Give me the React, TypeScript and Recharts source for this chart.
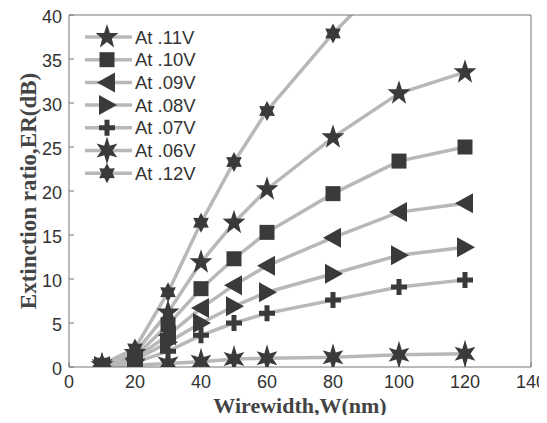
import { LineChart, Line, XAxis, YAxis, Label, Legend } from 'recharts';

// wirewidth W (nm)
const widths = [10, 20, 30, 40, 50, 60, 80, 100, 120];

// extinction ratio (dB) per bias voltage
const er11 = [0.2, 1.6, 6.2, 11.9, 16.4, 20.2, 26.1, 31.1, 33.5];
const er10 = [0.2, 1.2, 4.8, 8.9, 12.3, 15.3, 19.7, 23.4, 25.0];
const er09 = [0.1, 1.0, 3.6, 6.7, 9.3, 11.5, 14.7, 17.6, 18.6];
const er08 = [0.1, 0.8, 2.8, 5.0, 6.9, 8.5, 10.6, 12.7, 13.6];
const er07 = [0.1, 0.5, 1.8, 3.6, 5.0, 6.1, 7.6, 9.1, 9.9];
const er06 = [0.1, 0.2, 0.4, 0.6, 0.9, 1.0, 1.1, 1.4, 1.5];
const er12 = [0.3, 2.1, 8.5, 16.4, 23.3, 29.1, 37.9, 45.5, 52.0];

const xTicks = [0, 20, 40, 60, 80, 100, 120, 140];
const yTicks = [0, 5, 10, 15, 20, 25, 30, 35, 40];

const series = [
    { key: 'v11', name: 'At .11V', kind: 'star5', values: er11 },
    { key: 'v10', name: 'At .10V', kind: 'square', values: er10 },
    { key: 'v09', name: 'At .09V', kind: 'left', values: er09 },
    { key: 'v08', name: 'At .08V', kind: 'right', values: er08 },
    { key: 'v07', name: 'At .07V', kind: 'plus', values: er07 },
    { key: 'v06', name: 'At .06V', kind: 'star6', values: er06 },
    { key: 'v12', name: 'At .12V', kind: 'hex', values: er12 },
];

const data = widths.map((w, i) => {
    const row: Record<string, number> = { w };
    series.forEach(s => { row[s.key] = s.values[i]; });
    return row;
});

const MARK = '#3a3a3a';
const LINE = '#b8b8b8';
const AXIS = '#777';
const SANS = '"Liberation Sans", Arial, sans-serif';
const SERIF = '"Liberation Serif", "Times New Roman", serif';
const TICK_FONT = { fontSize: 18, fill: '#333', fontFamily: SANS };

const starPath = (cx: number, cy: number, n: number, rx: number, ry: number, ri: number) => {
    let d = '';
    for (let i = 0; i < n * 2; i++) {
        const a = -Math.PI / 2 + (i * Math.PI) / n;
        const px = cx + Math.cos(a) * (i % 2 === 0 ? rx : ri);
        const py = cy + Math.sin(a) * (i % 2 === 0 ? ry : ri);
        d += (i === 0 ? 'M' : 'L') + px.toFixed(1) + ',' + py.toFixed(1);
    }
    return d + 'Z';
};

const Marker = ({ kind, cx, cy }: { kind: string; cx: number; cy: number }) => {
    switch (kind) {
        case 'star5':
            return <path d={starPath(cx, cy, 5, 12, 13, 5)} fill={MARK} />;
        case 'square':
            return <rect x={cx - 7.5} y={cy - 7.5} width={15} height={15} fill={MARK} />;
        case 'left':
            return <polygon points={`${cx - 10},${cy} ${cx + 8},${cy - 10} ${cx + 8},${cy + 10}`} fill={MARK} />;
        case 'right':
            return <polygon points={`${cx + 10},${cy} ${cx - 8},${cy - 10} ${cx - 8},${cy + 10}`} fill={MARK} />;
        case 'plus':
            return <path d={`M${cx - 2.5},${cy - 8}h5v5.5h5.5v5h-5.5v5.5h-5v-5.5h-5.5v-5h5.5z`} fill={MARK} />;
        case 'star6':
            return <path d={starPath(cx, cy, 6, 12, 14, 5.5)} fill={MARK} />;
        default:
            return <path d={starPath(cx, cy, 6, 9, 10, 5.5)} fill={MARK} />;
    }
};

const renderLegend = () => (
    <svg width={140} height={160}>
        {series.map((s, i) => {
            const y = 11 + i * 22.7;
            return (
                <g key={s.key}>
                    <line x1={0} x2={47} y1={y} y2={y} stroke={LINE} strokeWidth={3.5} />
                    <Marker kind={s.kind} cx={22} cy={y} />
                    <text x={50} y={y + 6.5} fontSize={18.5} fill="#333" fontFamily={SANS}>{s.name}</text>
                </g>
            );
        })}
    </svg>
);

const xTick = (p: any) => (
    <text x={p.x} y={p.y + 13} textAnchor="middle" {...TICK_FONT}>{p.payload.value}</text>
);

const yTick = (p: any) => (
    <text x={p.x} y={p.y + 2} textAnchor="end" dominantBaseline="central" {...TICK_FONT}>{p.payload.value}</text>
);

const yTitle = (props: any) => {
    const vb = props.viewBox;
    return (
        <text transform={`translate(20, ${vb.y + vb.height / 2}) rotate(-90)`} textAnchor="middle" dominantBaseline="central"
            fontSize={23} fontWeight="bold" fill="#444" fontFamily={SERIF}>
            Extinction ratio,ER(dB)
        </text>
    );
};

const xTitle = (props: any) => {
    const vb = props.viewBox;
    return (
        <text x={vb.x + vb.width / 2} y={405} textAnchor="middle"
            fontSize={22} fontWeight="bold" fill="#444" fontFamily={SERIF}>
            Wirewidth,W(nm)
        </text>
    );
};

export default function App() {
    return (
        <div>
            <style>{'html, body { overflow: hidden; } svg { overflow: visible; }'}</style>
            <LineChart width={531} height={407} data={data} margin={{ top: 6, right: 7, bottom: 0, left: 0 }}>
                <XAxis dataKey="w" type="number" domain={[0, 140]} ticks={xTicks} height={48} stroke={AXIS}
                    tickSize={-5} tickMargin={13} tick={xTick} interval={0}>
                    <Label content={xTitle} />
                </XAxis>
                <XAxis xAxisId="top" dataKey="w" orientation="top" type="number" domain={[0, 140]} ticks={xTicks} height={1}
                    stroke={AXIS} tickSize={-5} tick={false} interval={0} />
                <YAxis type="number" domain={[0, 40]} ticks={yTicks} width={61} stroke={AXIS} allowDataOverflow
                    tickSize={-5} tickMargin={12} tick={yTick} interval={0}>
                    <Label content={yTitle} />
                </YAxis>
                <YAxis yAxisId="right" orientation="right" type="number" domain={[0, 40]} ticks={yTicks} width={1}
                    stroke={AXIS} tickSize={-5} tick={false} interval={0} allowDataOverflow />
                <Legend layout="vertical" align="center" verticalAlign="middle" content={renderLegend}
                    wrapperStyle={{ top: 18, left: 77, width: 140, height: 160 }} />
                {series.map(s => (
                    <Line key={s.key} dataKey={s.key} name={s.name} stroke={LINE} strokeWidth={3.5}
                        xAxisId={s.key === 'v06' ? 'top' : 0} yAxisId={s.key === 'v06' ? 'right' : 0}
                        isAnimationActive={false}
                        dot={(p: any) => <Marker key={`${s.key}-${p.index}`} kind={s.kind} cx={p.cx} cy={p.cy} />}
                        activeDot={false} />
                ))}
            </LineChart>
        </div>
    );
}
